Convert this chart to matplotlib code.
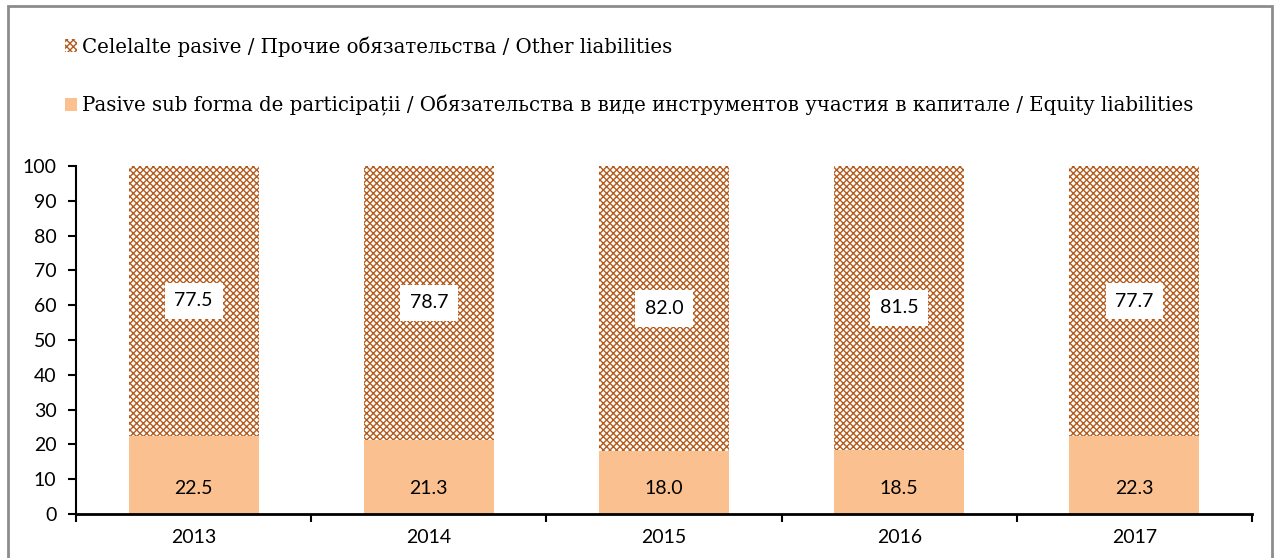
import matplotlib.pyplot as plt
import numpy as np
from matplotlib.patches import Patch, Rectangle

years = ['2013', '2014', '2015', '2016', '2017']
equity = [22.5, 21.3, 18.0, 18.5, 22.3]
other = [77.5, 78.7, 82.0, 81.5, 77.7]

label_other = 'Celelalte pasive / Прочие обязательства / Other liabilities'
label_equity = ('Pasive sub forma de participații / Обязательства в виде '
                'инструментов участия в капитале / Equity liabilities')

peach = '#FAC090'
brown = '#B35C1E'

plt.rcParams['hatch.linewidth'] = 1.0
tick_font = {'family': 'Lato', 'size': 14}
legend_font = {'family': 'DejaVu Serif', 'size': 14.2}

fig = plt.figure(figsize=(12.75, 5.58), dpi=100)
ax = fig.add_axes([0.0596, 0.0789, 0.9224, 0.6237])

x = np.arange(len(years))
width = 0.553
ax.bar(x, equity, width, color=peach, linewidth=0)
ax.bar(x, other, width, bottom=equity, facecolor='white', edgecolor=brown,
       hatch='xxxxx', linewidth=0)

for i in range(len(years)):
    ax.annotate(f'{equity[i]:.1f}', (x[i], 0), xytext=(0, 18),
                textcoords='offset points', ha='center', va='center',
                **tick_font)
    ax.text(x[i], equity[i] + other[i] / 2, f'{other[i]:.1f}',
            ha='center', va='center', **tick_font,
            bbox=dict(facecolor='white', edgecolor='none', pad=7))

ax.set_xlim(-0.5, len(years) - 0.5)
ax.set_ylim(0, 100)
ax.set_yticks(range(0, 101, 10))
ax.set_xticks(x)
ax.set_xticklabels(years)
ax.set_xticks(np.arange(-0.5, len(years)), minor=True)
ax.tick_params(axis='x', which='major', length=0, pad=11)
ax.tick_params(axis='x', which='minor', length=6, width=1.5, direction='out')
ax.tick_params(axis='y', length=6, width=1.5, direction='out', pad=8)
for lab in ax.get_xticklabels() + ax.get_yticklabels():
    lab.set_fontfamily('Lato')
    lab.set_fontsize(14)

for side in ['top', 'right']:
    ax.spines[side].set_visible(False)
ax.spines['left'].set_linewidth(1.5)
ax.spines['bottom'].set_linewidth(2)

handles = [Patch(facecolor='white', edgecolor=brown, hatch='xxxxx', linewidth=0),
           Patch(facecolor=peach, linewidth=0)]
fig.legend(handles, [label_other, label_equity], loc='upper left',
           bbox_to_anchor=(0.037, 0.967), frameon=False, prop=legend_font,
           handlelength=0.6, handleheight=0.6, handletextpad=0.25,
           labelspacing=1.95)

# grey frame around the chart
fig.patches.append(Rectangle((8 / 1275, -0.05), 1264 / 1275, 1.05 - 6 / 558,
                             transform=fig.transFigure, fill=False,
                             edgecolor='#8C8C8C', linewidth=2))

fig.savefig('out.png', dpi=100)
